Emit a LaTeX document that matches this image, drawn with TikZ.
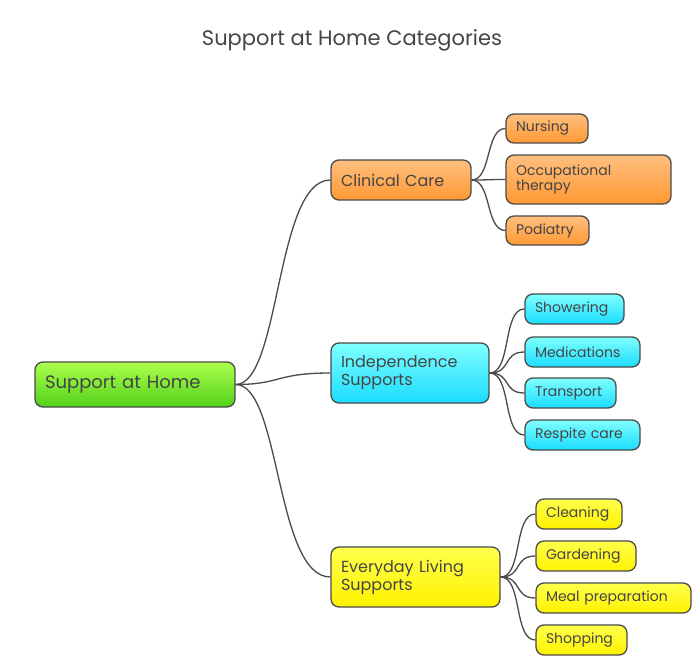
\documentclass[tikz,border=0pt]{standalone}
\usepackage{fontspec}
\setmainfont{Poppins}
\usetikzlibrary{shadings}
\definecolor{txt}{HTML}{454545}
\definecolor{ln}{HTML}{4A4A4A}
\tikzset{
 box/.style={draw=ln, line width=1.3pt, rounded corners=8pt, text=txt, align=left, inner sep=0pt, anchor=center},
 rootbox/.style={box, top color=green!10!yellow!60!green!70, bottom color=green!60!lime!80!black!90, font=\fontsize{18}{20}\selectfont},
 lvl/.style={box, font=\fontsize{16}{18}\selectfont},
 leaf/.style={box, font=\fontsize{14}{15}\selectfont},
 og/.style={top color=orange!50!white, bottom color=orange!80!white},
 bl/.style={top color=cyan!50!white, bottom color=cyan!85!blue!90},
 yl/.style={top color=yellow!70!white, bottom color=yellow!90!orange},
 con/.style={draw=ln, line width=1.3pt},
}
\newcommand{\bx}[7]{% name style x1 y1 x2 y2 text
 \node[#2, minimum width={(#5-#3)*1pt}, minimum height={(#6-#4)*1pt}, text width={(#5-#3-20)*1pt}] (#1) at ({(#3+#5)/2*1pt},{-(#4+#6)/2*1pt}) {#7};}
\begin{document}
\begin{tikzpicture}[x=1pt,y=1pt]
\useasboundingbox (0,0) rectangle (700,-671);
\node[text=txt, font=\fontsize{21}{24}\selectfont] (title) at (352,-40) {Support at Home Categories};
\bx{root}{rootbox}{35}{362}{235}{407}{Support at Home}
\bx{cc}{lvl,og}{331}{160}{471}{200}{Clinical Care}
\bx{is}{lvl,bl}{331}{343}{489}{403}{Independence\\Supports}
\bx{el}{lvl,yl}{331}{547}{500}{607}{Everyday Living\\Supports}
\bx{nu}{leaf,og}{506}{114}{588}{143}{Nursing}
\bx{ot}{leaf,og}{506}{155}{671}{204}{Occupational\\therapy}
\bx{po}{leaf,og}{506}{216}{589}{245}{Podiatry}
\bx{sh}{leaf,bl}{525}{294}{624}{324}{Showering}
\bx{me}{leaf,bl}{525}{337}{640}{367}{Medications}
\bx{tr}{leaf,bl}{525}{378}{616}{408}{Transport}
\bx{re}{leaf,bl}{525}{420}{640}{450}{Respite care}
\bx{cl}{leaf,yl}{536}{499}{622}{529}{Cleaning}
\bx{ga}{leaf,yl}{536}{541}{636}{571}{Gardening}
\bx{mp}{leaf,yl}{536}{583}{691}{613}{Meal preparation}
\bx{so}{leaf,yl}{536}{625}{627}{655}{Shopping}
\foreach \c in {cc,is,el}{
 \draw[con] (root.east) .. controls +(45,0) and +(-55,0) .. (\c.west);}
\foreach \c in {nu,ot,po}{
 \draw[con] (cc.east) .. controls +(20,0) and +(-20,0) .. (\c.west);}
\foreach \c in {sh,me,tr,re}{
 \draw[con] (is.east) .. controls +(22,0) and +(-22,0) .. (\c.west);}
\foreach \c in {cl,ga,mp,so}{
 \draw[con] (el.east) .. controls +(22,0) and +(-22,0) .. (\c.west);}
\end{tikzpicture}
\end{document}
